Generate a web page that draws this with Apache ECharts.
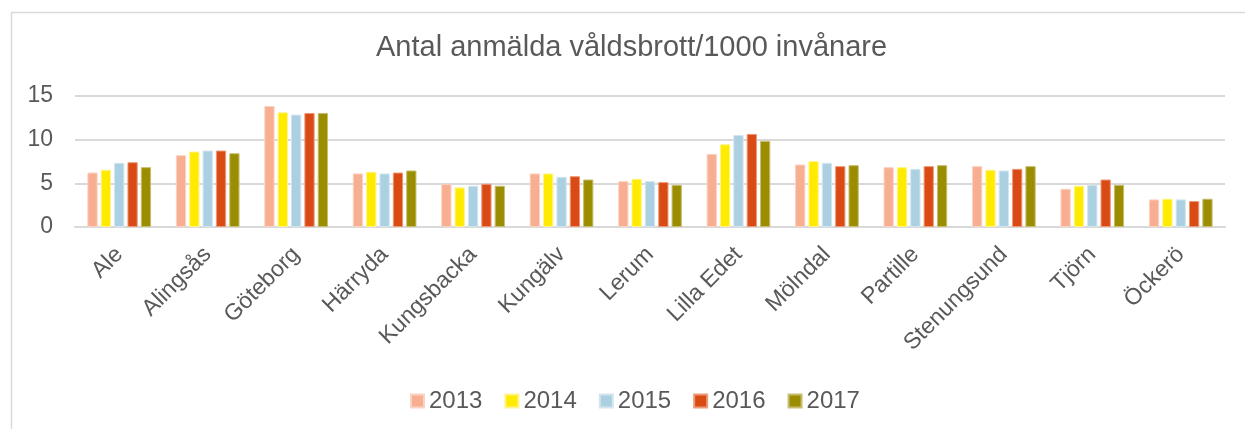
<!DOCTYPE html>
<html><head><meta charset="utf-8">
<script src="https://cdn.jsdelivr.net/npm/echarts@6/dist/echarts.min.js"></script>
<style>html,body{margin:0;padding:0;background:#fff}#c{width:1245px;height:429px}</style>
</head><body><div id="c"></div>
<script>
const categories = ['Ale','Alingsås','Göteborg','Härryda','Kungsbacka','Kungälv','Lerum','Lilla Edet','Mölndal','Partille','Stenungsund','Tjörn','Öckerö'];
const years = ['2013','2014','2015','2016','2017'];
const v2013 = [6.24, 8.22, 13.86, 6.13, 4.95, 6.13, 5.25, 8.37, 7.16, 6.85, 6.97, 4.38, 3.16];
const v2014 = [6.55, 8.64, 13.13, 6.32, 4.53, 6.13, 5.52, 9.48, 7.54, 6.85, 6.55, 4.72, 3.24];
const v2015 = [7.35, 8.76, 12.87, 6.13, 4.72, 5.75, 5.25, 10.54, 7.35, 6.66, 6.47, 4.83, 3.16];
const v2016 = [7.42, 8.76, 13.06, 6.24, 4.95, 5.82, 5.14, 10.66, 6.97, 6.97, 6.66, 5.44, 2.97];
const v2017 = [6.85, 8.45, 13.06, 6.47, 4.72, 5.44, 4.83, 9.86, 7.08, 7.08, 6.97, 4.83, 3.24];
const yTicks = [0, 5, 10, 15];
const colors = ['#F7AE91', '#FFEB00', '#ABD0E1', '#DA4A14', '#9A8D00'];
const borders = ['#FBD3C3', '#FFF38A', '#D3E6EF', '#EC9A7A', '#C8BE70'];
const seriesData = [v2013, v2014, v2015, v2016, v2017];

const chart = echarts.init(document.getElementById('c'));
const font = 'Liberation Sans, Arial, sans-serif';
chart.setOption({
  animation: false,
  textStyle: {fontFamily: font},
  graphic: [{type: 'rect', left: 9, top: 10, shape: {width: 1400, height: 600}, style: {fill: 'none', stroke: '#D9D9D9', lineWidth: 1.5}, z: -1}],
  title: {text: 'Antal anmälda våldsbrott/1000 invånare', left: 376, top: 33, padding: 0,
    textStyle: {fontFamily: font, fontSize: 29, fontWeight: 'normal', color: '#595959'}},
  legend: {data: years, bottom: 16, left: 410, padding: 0, itemWidth: 13, itemHeight: 13, itemGap: 22,
    icon: 'rect', textStyle: {fontFamily: font, fontSize: 24, color: '#595959'}},
  grid: {left: 75, right: 20, top: 96, bottom: 202, containLabel: false},
  xAxis: {type: 'category', data: categories,
    axisLine: {lineStyle: {color: '#D9D9D9', width: 2}}, axisTick: {show: false},
    axisLabel: {rotate: 45, fontSize: 23, color: '#595959', margin: 24, interval: 0, fontFamily: font}},
  yAxis: {type: 'value', min: yTicks[0], max: yTicks[yTicks.length - 1], interval: 5,
    axisLine: {show: false}, axisTick: {show: false},
    axisLabel: {fontSize: 23, color: '#595959', margin: 22, fontFamily: font},
    splitLine: {lineStyle: {color: '#D9D9D9', width: 2}}},
  series: years.map((y, i) => ({
    name: y, type: 'bar', data: seriesData[i], barGap: '30%', barCategoryGap: '28%',
    itemStyle: {color: colors[i], borderColor: borders[i], borderWidth: 1}
  }))
});
</script></body></html>
